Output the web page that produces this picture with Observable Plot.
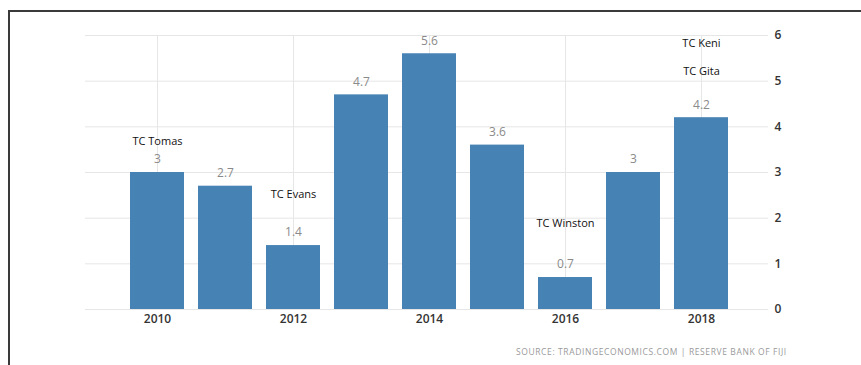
<!DOCTYPE html>
<html>
<head>
<meta charset="utf-8">
<script src="https://cdn.jsdelivr.net/npm/d3@7"></script>
<script src="https://cdn.jsdelivr.net/npm/@observablehq/plot@0.6"></script>
<style>
  html, body { margin: 0; padding: 0; background: #fff; }
  #wrap { position: relative; width: 861px; height: 365px; overflow: hidden; font-family: "Open Sans", "Noto Sans", sans-serif; }
  #frame { position: absolute; left: 8px; top: 10px; right: -5px; bottom: -5px; border-top: 2px solid #3a3a3a; border-left: 2px solid #3a3a3a; }
  #chart { position: absolute; left: 0; top: 0; }
  #source { position: absolute; left: 516px; top: 346px; font-size: 8.5px; letter-spacing: 0.6px; color: #9a9a9a; white-space: nowrap; }
</style>
</head>
<body>
<div id="wrap">
  <div id="frame"></div>
  <div id="chart"></div>
  <div id="source">SOURCE: TRADINGECONOMICS.COM | RESERVE BANK OF FIJI</div>
</div>
<script>
const years = [2010, 2011, 2012, 2013, 2014, 2015, 2016, 2017, 2018];
const values = [3, 2.7, 1.4, 4.7, 5.6, 3.6, 0.7, 3, 4.2];
const valueLabels = ["3", "2.7", "1.4", "4.7", "5.6", "3.6", "0.7", "3", "4.2"];
const tickYears = [2010, 2012, 2014, 2016, 2018];
const yTicks = [0, 1, 2, 3, 4, 5, 6];
const annNames = ["TC Tomas", "TC Evans", "TC Winston", "TC Gita", "TC Keni"];
const annYears = [2010, 2012, 2016, 2018, 2018];
const annValues = [3.68, 2.52, 1.88, 5.21, 5.82];

const data = years.map((year, i) => ({year, value: values[i], label: valueLabels[i]}));
const ann = annNames.map((name, i) => ({name, year: annYears[i], y: annValues[i]}));

const chart = Plot.plot({
  width: 861,
  height: 335,
  marginLeft: 85,
  marginRight: 93,
  marginTop: 35,
  marginBottom: 26,
  style: {fontFamily: "'Open Sans', 'Noto Sans', sans-serif", background: "transparent", overflow: "visible"},
  x: {type: "band", domain: years, paddingInner: 0.2, paddingOuter: 0, insetLeft: 41, insetRight: 35},
  y: {domain: [0, 6]},
  marks: [
    Plot.gridY({ticks: yTicks, stroke: "#e6e6e6", strokeOpacity: 1}),
    Plot.gridX({ticks: tickYears, stroke: "#e6e6e6", strokeOpacity: 1}),
    Plot.barY(data, {x: "year", y: "value", fill: "#4682b4"}),
    Plot.text(data, {x: "year", y: "value", text: "label", dy: -13, fill: "#8a8a8a", fontSize: 12}),
    Plot.text(ann, {x: "year", y: "y", text: "name", fill: "#111", fontSize: 11}),
    Plot.axisX({ticks: tickYears, tickFormat: d => String(d), tickSize: 0, tickPadding: 5, fontSize: 12, fontWeight: 600, color: "#333", label: null}),
    Plot.axisY({anchor: "right", ticks: yTicks, tickFormat: d => String(d), tickSize: 0, tickPadding: 6, fontSize: 12, fontWeight: 600, color: "#333", label: null})
  ]
});
document.getElementById("chart").appendChild(chart);
</script>
</body>
</html>
